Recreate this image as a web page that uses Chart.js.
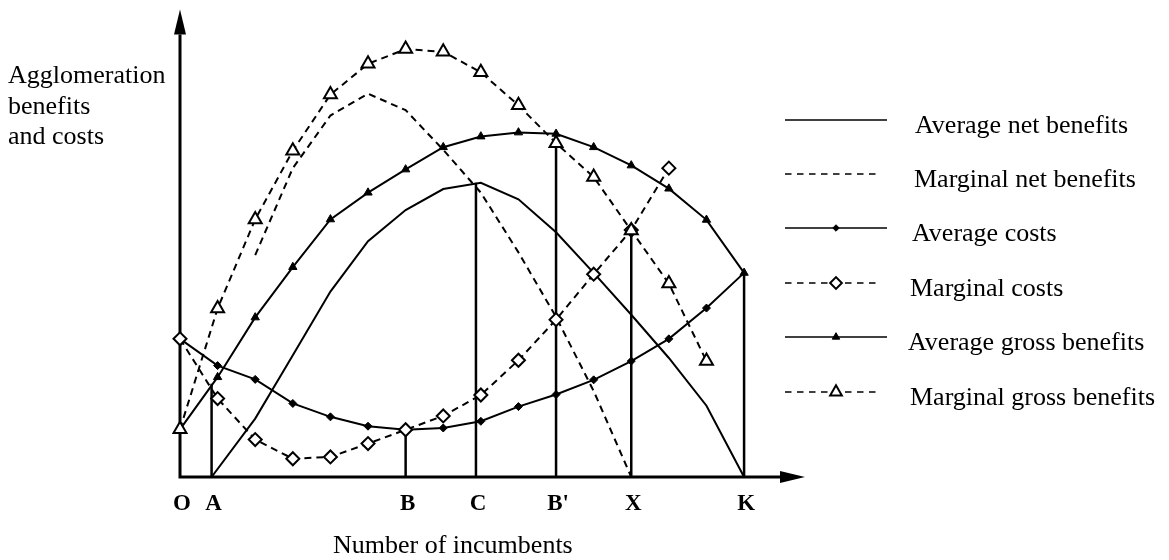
<!DOCTYPE html>
<html>
<head>
<meta charset="utf-8">
<title>Agglomeration benefits and costs</title>
<script src="https://cdn.jsdelivr.net/npm/chart.js@4.4.1/dist/chart.umd.min.js"></script>
<style>
  html, body { margin: 0; padding: 0; background: #fff; }
  #chart { display: block; }
</style>
</head>
<body>
<canvas id="chart" width="1169" height="560"></canvas>
<script>
// x = number of incumbents (one step per marker), y = benefits and costs
const steps = [0, 1, 2, 3, 4, 5, 6, 7, 8, 9, 10, 11, 12, 13, 14, 15];

const marginalGross = [10.7, 37.8, 57.8, 73.2, 85.8, 92.7, 96.0, 95.4, 90.8, 83.4, 74.9, 67.3, 55.3, 43.4, 26.0];
const averageGross  = [10.7, 22.4, 35.8, 47.1, 57.8, 63.8, 69.0, 74.0, 76.4, 77.3, 77.0, 74.0, 69.9, 64.7, 57.7, 45.8];
const averageCosts  = [31.0, 25.0, 21.9, 16.5, 13.5, 11.4, 10.6, 11.0, 12.5, 15.8, 18.5, 21.8, 26.0, 31.0, 37.9, 45.8];
const marginalCosts = [31.0, 17.6, 8.4, 4.1, 4.5, 7.5, 10.6, 13.7, 18.4, 26.2, 35.3, 45.5, 55.4, 69.3];

const averageNetX = [0.84, 2, 3, 4, 5, 6, 7, 8, 9, 10, 11, 12, 13, 14, 15];
const averageNet  = [0, 13.1, 27.3, 41.6, 52.9, 59.9, 64.6, 66.0, 62.3, 54.9, 45.8, 36.4, 26.7, 16.0, 0];
const marginalNetX = [2, 3, 4, 5, 6, 7, 8, 9, 10, 11, 12];
const marginalNet  = [49.8, 69.3, 81.1, 86.0, 82.3, 73.4, 63.8, 50.4, 35.9, 19.3, 0];

// vertical guide lines A, B, C, B', X, K
const refX   = [0.84, 6, 7.87, 10, 12, 15];
const refTop = [20.9, 10.6, 66.0, 77.6, 55.4, 45.8];

const tickValues = [0, 0.84, 6, 7.87, 10, 12, 15];
const tickLabels = ['O', 'A', 'B', 'C', "B'", 'X', 'K'];

const yTitle = ['Agglomeration', 'benefits', 'and costs'];
const xTitle = 'Number of incumbents';

const SERIF = "'Liberation Serif', 'Times New Roman', serif";
const DASH = [7, 5];

function pts(xs, ys) {
    return ys.map((y, i) => ({ x: xs[i], y: y }));
}

const series = [
    { label: 'Average net benefits', data: pts(averageNetX, averageNet), borderDash: [], pointRadius: 0, order: 4 },
    { label: 'Marginal net benefits', data: pts(marginalNetX, marginalNet), borderDash: DASH, pointRadius: 0, order: 5 },
    { label: 'Average costs', data: pts(steps, averageCosts), borderDash: [],
      pointStyle: 'rectRot', pointRadius: c => c.dataIndex === averageCosts.length - 1 ? 0 : 4,
      pointBackgroundColor: '#000', pointBorderWidth: 1, order: 3 },
    { label: 'Marginal costs', data: pts(steps, marginalCosts), borderDash: DASH,
      pointStyle: 'rectRot', pointRadius: 6.5, pointBackgroundColor: '#fff', pointBorderWidth: 2, order: 1 },
    { label: 'Average gross benefits', data: pts(steps, averageGross), borderDash: [],
      pointStyle: 'triangle', pointRadius: 4.8, pointBackgroundColor: '#000', pointBorderWidth: 1, order: 2 },
    { label: 'Marginal gross benefits', data: pts(steps, marginalGross), borderDash: DASH,
      pointStyle: 'triangle', pointRadius: 7.5, pointBackgroundColor: '#fff', pointBorderWidth: 2, order: 0 }
];

const datasets = series.map(s => Object.assign({
    borderColor: '#000',
    borderWidth: 2,
    pointBorderColor: '#000',
    pointHoverRadius: 0,
    tension: 0,
    fill: false,
    clip: false
}, s));

refX.forEach((x, i) => {
    datasets.push({
        label: 'ref ' + tickLabels[i + 1],
        isRef: true,
        data: [{ x: x, y: 0 }, { x: x, y: refTop[i] }],
        borderColor: '#000',
        borderWidth: 2.5,
        pointRadius: 0,
        order: 6
    });
});

const diagram = {
    id: 'diagram',
    beforeDatasetsDraw(chart) {
        const { ctx, chartArea: a } = chart;
        const y0 = chart.scales.y.getPixelForValue(0);
        const x0 = chart.scales.x.getPixelForValue(0);
        ctx.save();
        ctx.strokeStyle = '#000';
        ctx.fillStyle = '#000';
        ctx.lineWidth = 3;
        ctx.beginPath();
        ctx.moveTo(x0, y0);
        ctx.lineTo(x0, a.top + 25);
        ctx.moveTo(x0 - 1.5, y0);
        ctx.lineTo(a.right - 25, y0);
        ctx.stroke();
        // arrow heads
        ctx.beginPath();
        ctx.moveTo(x0, a.top);
        ctx.lineTo(x0 - 6, a.top + 25);
        ctx.lineTo(x0 + 6, a.top + 25);
        ctx.closePath();
        ctx.fill();
        ctx.beginPath();
        ctx.moveTo(a.right, y0);
        ctx.lineTo(a.right - 25, y0 - 6);
        ctx.lineTo(a.right - 25, y0 + 6);
        ctx.closePath();
        ctx.fill();
        ctx.restore();
    },
    afterDraw(chart) {
        const { ctx } = chart;
        const xs = chart.scales.x;
        ctx.save();
        ctx.fillStyle = '#000';

        // tick letters
        ctx.font = 'bold 23px ' + SERIF;
        ctx.textAlign = 'center';
        ctx.textBaseline = 'alphabetic';
        tickValues.forEach((v, i) => {
            ctx.fillText(tickLabels[i], xs.getPixelForValue(v) + 2, 510);
        });

        // axis titles
        ctx.font = '26px ' + SERIF;
        ctx.textAlign = 'left';
        yTitle.forEach((t, i) => ctx.fillText(t, 8, 83 + i * 30.5));
        ctx.fillText(xTitle, 333, 553);

        // legend
        const rowY = [120, 174, 228, 283, 337, 392];
        const textX = [915, 914, 912, 910, 908, 910];
        chart.data.datasets.filter(d => !d.isRef).forEach((d, i) => {
            const y = rowY[i];
            const dashed = d.borderDash && d.borderDash.length;
            ctx.save();
            ctx.strokeStyle = '#000';
            ctx.lineWidth = 1.6;
            ctx.setLineDash(dashed ? [6.5, 5.5] : []);
            ctx.beginPath();
            ctx.moveTo(785, y);
            ctx.lineTo(dashed ? 878 : 887, y);
            ctx.stroke();
            ctx.setLineDash([]);
            if (d.pointStyle) {
                const r = typeof d.pointRadius === 'number' ? d.pointRadius : 3.6;
                ctx.fillStyle = d.pointBackgroundColor;
                ctx.strokeStyle = '#000';
                ctx.lineWidth = d.pointBorderWidth;
                Chart.helpers.drawPoint(ctx, {
                    pointStyle: d.pointStyle, radius: r * 0.9, rotation: 0, borderWidth: d.pointBorderWidth
                }, 836, y);
            }
            ctx.restore();
            ctx.fillText(d.label, textX[i], y + 12.5);
        });
        ctx.restore();
    }
};

new Chart(document.getElementById('chart').getContext('2d'), {
    type: 'line',
    data: { datasets: datasets },
    options: {
        responsive: false,
        animation: false,
        events: [],
        layout: { padding: { left: 180, top: 5, right: 364, bottom: 83 } },
        scales: {
            x: { type: 'linear', min: 0, max: 16.62, display: false },
            y: { type: 'linear', min: 0, max: 104.89, display: false }
        },
        plugins: {
            legend: { display: false },
            tooltip: { enabled: false }
        }
    },
    plugins: [diagram]
});
</script>
</body>
</html>
